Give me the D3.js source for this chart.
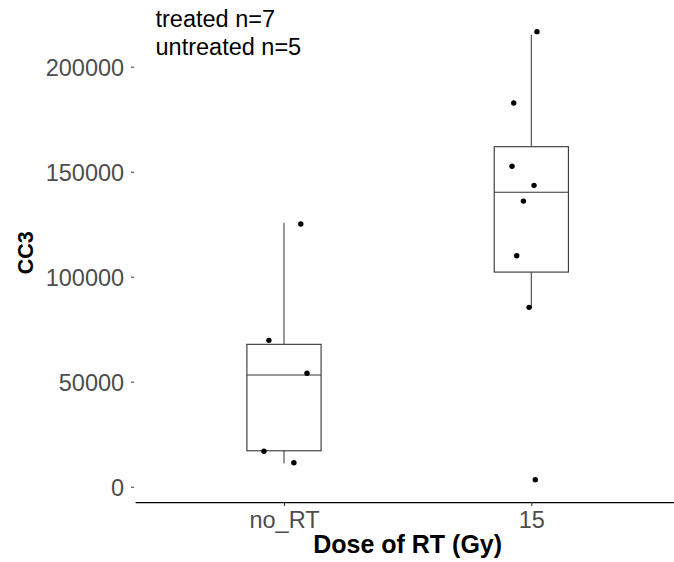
<!DOCTYPE html>
<html>
<head>
<meta charset="utf-8">
<script src="https://cdn.jsdelivr.net/npm/d3@7"></script>
<style>
  html, body { margin: 0; padding: 0; background: #fff; }
  svg { display: block; }
  text { font-family: "Liberation Sans", Arial, Helvetica, sans-serif; }
</style>
</head>
<body>
<div id="chart"></div>
<script>
// Cleaved caspase-3 (CC3) signal by radiation dose
const groups = ["no_RT", "15"];

// Individual measurements per group, with horizontal jitter (fraction of category step)
const noRtValues = [125100, 69700, 54000, 16900, 11400];
const noRtJitter = [0.068, -0.061, 0.093, -0.081, 0.040];
const rt15Values = [216700, 182700, 152600, 143500, 136000, 110000, 85400, 3300];
const rt15Jitter = [0.023, -0.071, -0.078, 0.011, -0.032, -0.059, -0.009, 0.016];

// Box summaries: [lower whisker, Q1, median, Q3, upper whisker]
const noRtBox = [11100, 17100, 53200, 67800, 125700];
const rt15Box = [85000, 102200, 140200, 161900, 215100];

const yTicks = [0, 50000, 100000, 150000, 200000];
const annotations = ["treated n=7", "untreated n=5"];
const xTitle = "Dose of RT (Gy)";
const yTitle = "CC3";

const width = 674, height = 562;
const panel = { left: 135.6, right: 679.7, top: 9.3, bottom: 502.1 };

const svg = d3.select("#chart").append("svg")
  .attr("width", width).attr("height", height);

const x = d3.scalePoint()
  .domain(groups)
  .range([panel.left, panel.right])
  .padding(0.6);

const y = d3.scaleLinear()
  .domain([-7337, 227337])
  .range([panel.bottom, panel.top]);

const step = x.step();
const boxWidth = step * 0.3;

const series = [
  { group: "no_RT", values: noRtValues, jitter: noRtJitter, box: noRtBox },
  { group: "15", values: rt15Values, jitter: rt15Jitter, box: rt15Box }
];

// Y axis (ticks and labels only, no axis line)
const yAxis = svg.append("g")
  .attr("transform", `translate(${panel.left - 1.5},0)`)
  .call(d3.axisLeft(y).tickValues(yTicks).tickSize(3).tickPadding(7).tickFormat(d3.format("d")));
yAxis.select(".domain").remove();
yAxis.selectAll(".tick line").attr("stroke", "#333333").attr("stroke-width", 1);
yAxis.selectAll(".tick text")
  .attr("fill", "#4d4d4d")
  .attr("font-size", 23.5)
  .attr("dy", "0.36em")
  .style("font-family", "'Liberation Sans', Arial, sans-serif");

// X axis
const xAxis = svg.append("g")
  .attr("transform", `translate(0,${panel.bottom})`)
  .call(d3.axisBottom(x).tickSize(4).tickPadding(5));
xAxis.select(".domain").attr("stroke", "#000").attr("stroke-width", 1.2)
  .attr("d", `M${panel.left},0.5H${width}`);
xAxis.selectAll(".tick line").attr("stroke", "#333333");
xAxis.selectAll(".tick text")
  .attr("fill", "#4d4d4d")
  .attr("font-size", 23.5)
  .style("font-family", "'Liberation Sans', Arial, sans-serif");

// Boxplots
const boxes = svg.append("g").selectAll("g").data(series).join("g");
boxes.append("line")
  .attr("x1", d => x(d.group)).attr("x2", d => x(d.group))
  .attr("y1", d => y(d.box[3])).attr("y2", d => y(d.box[4]))
  .attr("stroke", "#333333").attr("stroke-width", 1);
boxes.append("line")
  .attr("x1", d => x(d.group)).attr("x2", d => x(d.group))
  .attr("y1", d => y(d.box[0])).attr("y2", d => y(d.box[1]))
  .attr("stroke", "#333333").attr("stroke-width", 1);
boxes.append("rect")
  .attr("x", d => x(d.group) - boxWidth / 2)
  .attr("width", boxWidth)
  .attr("y", d => y(d.box[3]))
  .attr("height", d => y(d.box[1]) - y(d.box[3]))
  .attr("fill", "none").attr("stroke", "#333333").attr("stroke-width", 1.1);
boxes.append("line")
  .attr("x1", d => x(d.group) - boxWidth / 2).attr("x2", d => x(d.group) + boxWidth / 2)
  .attr("y1", d => y(d.box[2])).attr("y2", d => y(d.box[2]))
  .attr("stroke", "#333333").attr("stroke-width", 1.1);

// Jittered points
const points = series.flatMap(s => s.values.map((v, i) => ({ group: s.group, value: v, jit: s.jitter[i] })));
svg.append("g").selectAll("circle").data(points).join("circle")
  .attr("cx", d => x(d.group) + d.jit * step)
  .attr("cy", d => y(d.value))
  .attr("r", 2.7)
  .attr("fill", "#000");

// Group size annotation
svg.append("g").selectAll("text").data(annotations).join("text")
  .attr("x", 155.5)
  .attr("y", (d, i) => 26.7 + i * 28.5)
  .attr("font-size", 23.5)
  .attr("fill", "#000")
  .text(d => d);

// Axis titles
svg.append("text")
  .attr("x", (panel.left + panel.right) / 2)
  .attr("y", 552.5)
  .attr("text-anchor", "middle")
  .attr("font-size", 25)
  .attr("font-weight", "bold")
  .attr("fill", "#000")
  .text(xTitle);

svg.append("text")
  .attr("transform", `translate(33,${(panel.top + panel.bottom) / 2 - 3}) rotate(-90)`)
  .attr("text-anchor", "middle")
  .attr("font-size", 21.5)
  .attr("font-weight", "bold")
  .attr("fill", "#000")
  .text(yTitle);
</script>
</body>
</html>
